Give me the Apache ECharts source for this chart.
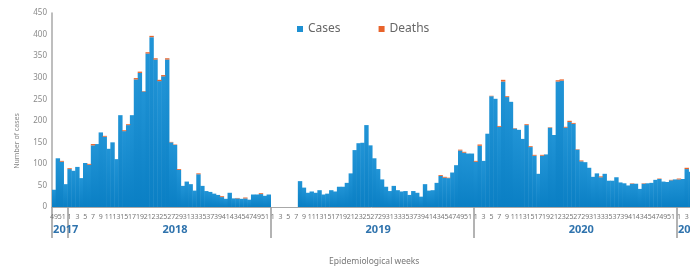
<!DOCTYPE html>
<html>
<head>
<meta charset="utf-8">
<script src="https://cdn.jsdelivr.net/npm/echarts@6/dist/echarts.min.js"></script>
<style>
  html, body { margin: 0; padding: 0; background: #fff; }
  #chart { width: 690px; height: 269px; }
</style>
</head>
<body>
<div id="chart"></div>
<script>
// years shown on the axis and the weeks that each one covers
const years = ["2017", "2018", "2019", "2020", "2021"];
const firstWeek = [49, 1, 1, 1, 1];
const weekCount = [4, 52, 52, 52, 5];
const yearLabelWeek = [52, 28, 28, 28, 4]; // week under which the year is written

// cases per week
const cases2017 = [40, 113, 105, 53];
const cases2018 = [
  88, 84, 93, 67, 102, 98, 143, 146, 173, 163,
  135, 150, 111, 213, 176, 190, 213, 296, 311, 268,
  356, 394, 342, 292, 303, 342, 150, 144, 86, 49,
  59, 53, 38, 76, 49, 37, 35, 31, 28, 23,
  19, 33, 20, 20, 19, 20, 17, 29, 29, 30,
  26, 29
];
const cases2019 = [
  null, null, null, null, null, null, null, 60, 45, 33,
  36, 33, 39, 29, 31, 39, 36, 47, 47, 56,
  78, 132, 148, 149, 190, 143, 113, 88, 64, 47,
  37, 49, 39, 36, 37, 28, 37, 33, 24, 53,
  38, 39, 56, 72, 68, 67, 80, 97, 131, 126,
  124, 124
];
const cases2020 = [
  105, 142, 107, 170, 257, 251, 186, 291, 255, 244,
  182, 179, 158, 190, 139, 119, 77, 119, 122, 184,
  167, 291, 293, 184, 197, 193, 133, 106, 104, 91,
  70, 78, 69, 77, 61, 61, 69, 57, 55, 50,
  54, 54, 42, 54, 55, 56, 63, 65, 59, 58,
  62, 64
];
const cases2021 = [64, 65, 88, 82, null];

// deaths per week
const deaths2017 = [0, 0, 2, 0];
const deaths2018 = [
  2, 0, 0, 0, 0, 2, 3, 0, 0, 2,
  0, 0, 0, 0, 2, 2, 0, 3, 3, 1,
  3, 3, 3, 3, 3, 3, 1, 1, 2, 0,
  0, 0, 0, 2, 0, 0, 0, 0, 0, 2,
  0, 0, 0, 1, 0, 2, 0, 0, 0, 2,
  0, 0
];
const deaths2019 = [
  null, null, null, null, null, null, null, 0, 0, 0,
  0, 0, 0, 0, 0, 0, 0, 0, 0, 0,
  0, 0, 0, 0, 0, 0, 0, 0, 0, 0,
  0, 0, 0, 0, 0, 0, 0, 0, 0, 0,
  0, 0, 0, 2, 2, 1, 0, 0, 2, 2,
  0, 0
];
const deaths2020 = [
  2, 3, 0, 0, 1, 0, 2, 4, 2, 0,
  1, 0, 0, 2, 2, 2, 0, 2, 0, 1,
  0, 3, 3, 2, 3, 2, 1, 2, 0, 0,
  0, 0, 2, 0, 0, 0, 0, 0, 0, 0,
  1, 0, 0, 1, 0, 0, 0, 1, 0, 0,
  1, 0
];
const deaths2021 = [2, 0, 3, 0, null];

const cases = [].concat(cases2017, cases2018, cases2019, cases2020, cases2021);
const deaths = [].concat(deaths2017, deaths2018, deaths2019, deaths2020, deaths2021);

// category list: one entry per week, remembering its week number and year
const categories = [];
const weekOf = [];
const yearLabelIdx = {};
years.forEach((y, yi) => {
  for (let k = 0; k < weekCount[yi]; k++) {
    const w = firstWeek[yi] + k;
    if (w === yearLabelWeek[yi]) yearLabelIdx[categories.length] = y;
    categories.push(y + "-" + w);
    weekOf.push(w);
  }
});

const chart = echarts.init(document.getElementById("chart"));

const option = {
  animation: false,
  textStyle: { fontFamily: "Noto Sans" },
  legend: {
    top: 18,
    left: 292,
    icon: "rect",
    itemWidth: 6,
    itemHeight: 6,
    itemGap: 38,
    textStyle: { fontSize: 12, color: "#666" },
    data: [
      { name: "Cases", itemStyle: { color: "#1e90d2" } },
      { name: "Deaths", itemStyle: { color: "#e8632b" } },
    ],
  },
  grid: {
    left: 52,
    top: 13,
    height: 194,
    width: 644.5,
    containLabel: false,
    outerBoundsMode: "none",
  },
  xAxis: {
    type: "category",
    data: categories,
    name: "Epidemiological weeks",
    nameLocation: "middle",
    nameGap: 50,
    nameTextStyle: { fontSize: 8.5, color: "#777" },
    axisLine: { lineStyle: { color: "#a8a8a8", width: 1 } },
    axisTick: {
      show: true,
      length: 31,
      interval: (idx) => idx === 0 || weekOf[idx] === 1,
      lineStyle: { color: "#9a9a9a", width: 1.5 },
    },
    axisLabel: {
      interval: (idx) => weekOf[idx] % 2 === 1 || yearLabelIdx[idx] !== undefined,
      showMinLabel: true,
      margin: 6,
      fontSize: 7,
      color: "#777",
      formatter: (value, idx) => {
        if (yearLabelIdx[idx] !== undefined) return "{yr|" + yearLabelIdx[idx] + "}";
        return String(weekOf[idx]);
      },
      rich: {
        yr: {
          fontSize: 11,
          fontWeight: "bold",
          color: "#2f73ad",
          padding: [11, 0, 0, 0],
        },
      },
    },
    splitLine: { show: false },
  },
  yAxis: {
    type: "value",
    min: 0,
    max: 450,
    interval: 50,
    name: "Number of cases",
    nameLocation: "middle",
    nameGap: 32,
    nameTextStyle: { fontSize: 7, color: "#888", padding: [0, 62, 0, 0] },
    axisLine: { show: true, lineStyle: { color: "#a8a8a8", width: 1.5 } },
    axisTick: { show: false },
    axisLabel: { fontSize: 8, color: "#8a8a8a", margin: 5 },
    splitLine: { show: false },
  },
  series: [
    {
      name: "Cases",
      type: "bar",
      stack: "total",
      barWidth: 4.4,
      data: cases,
      itemStyle: {
        color: new echarts.graphic.LinearGradient(0, 0, 0, 1, [
          { offset: 0, color: "#2194d6" },
          { offset: 1, color: "#0a7fc4" },
        ]),
      },
    },
    {
      name: "Deaths",
      type: "bar",
      stack: "total",
      barWidth: 4.4,
      data: deaths,
      itemStyle: { color: "#e8632b" },
    },
  ],
};

chart.setOption(option);
</script>
</body>
</html>
